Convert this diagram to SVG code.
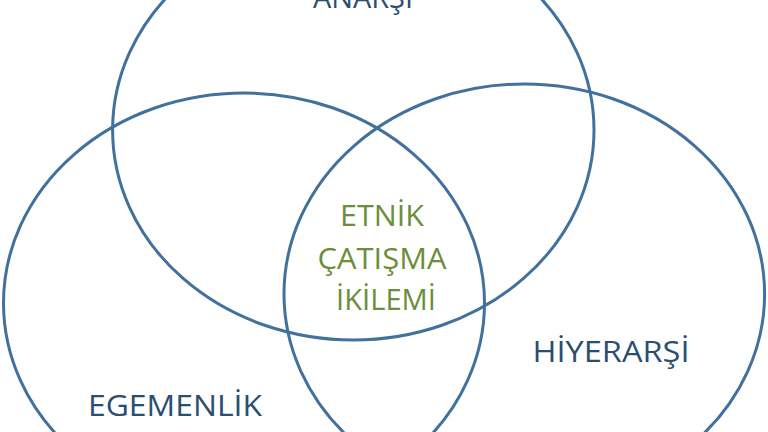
<svg xmlns="http://www.w3.org/2000/svg" width="768" height="432" viewBox="0 0 768 432">
<style>
.ring{fill:none;stroke:#41719C;stroke-width:3}
.lbl{font-family:"Open Sans","Liberation Sans",sans-serif;font-size:30px;fill:#2A4E72;text-anchor:middle}
.mid{font-family:"Open Sans","Liberation Sans",sans-serif;font-size:30px;fill:#6B8E3A;text-anchor:middle}
</style>
<rect width="768" height="432" fill="#ffffff"/>
<g id="connectors"></g>
<g id="anarsi">
<ellipse class="ring" cx="353.3" cy="130" rx="240.7" ry="210"/>
<text class="lbl" x="363" y="8" textLength="100" lengthAdjust="spacingAndGlyphs">ANARŞİ</text>
</g>
<g id="egemenlik">
<ellipse class="ring" cx="244" cy="303" rx="240.5" ry="210"/>
<text class="lbl" x="175" y="416" textLength="174" lengthAdjust="spacingAndGlyphs">EGEMENLİK</text>
</g>
<g id="hiyerarsi">
<ellipse class="ring" cx="524.3" cy="294" rx="240.3" ry="210"/>
<text class="lbl" x="611" y="362" textLength="157" lengthAdjust="spacingAndGlyphs">HİYERARŞİ</text>
</g>
<g id="center">
<text class="mid" x="382" y="226" textLength="84" lengthAdjust="spacingAndGlyphs">ETNİK</text>
<text class="mid" x="382" y="269" textLength="129" lengthAdjust="spacingAndGlyphs">ÇATIŞMA</text>
<text class="mid" x="386" y="310" textLength="100" lengthAdjust="spacingAndGlyphs">İKİLEMİ</text>
</g>
</svg>
